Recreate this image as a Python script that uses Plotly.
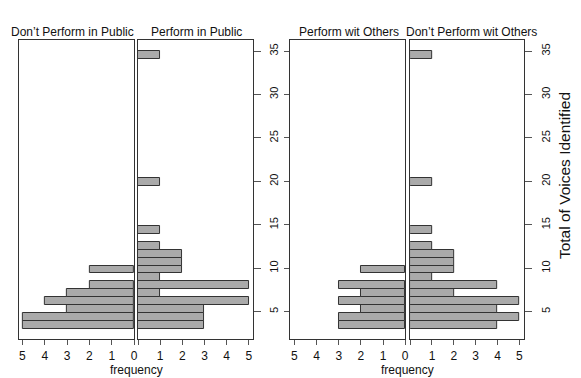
import numpy as np
import plotly.graph_objects as go

# Histogram bins of "Total of Voices Identified": 35 equal bins from 3 to 35
bin_low = 3
bin_high = 35
n_bins = 35

# counts per bin (bottom bin first)
dont_perform_public = [5, 5, 3, 4, 3, 2, 0, 2, 0, 0, 0, 0, 0, 0, 0, 0, 0, 0, 0, 0,
                       0, 0, 0, 0, 0, 0, 0, 0, 0, 0, 0, 0, 0, 0, 0]
perform_public = [3, 3, 3, 5, 1, 5, 1, 2, 2, 2, 1, 0, 1, 0, 0, 0, 0, 0, 1, 0,
                  0, 0, 0, 0, 0, 0, 0, 0, 0, 0, 0, 0, 0, 0, 1]
perform_others = [3, 3, 2, 3, 2, 3, 0, 2, 0, 0, 0, 0, 0, 0, 0, 0, 0, 0, 0, 0,
                  0, 0, 0, 0, 0, 0, 0, 0, 0, 0, 0, 0, 0, 0, 0]
dont_perform_others = [4, 5, 4, 5, 2, 4, 1, 2, 2, 2, 1, 0, 1, 0, 0, 0, 0, 0, 1, 0,
                       0, 0, 0, 0, 0, 0, 0, 0, 0, 0, 0, 0, 0, 0, 1]

panel_titles = ["Don\u2019t Perform in Public", "Perform in Public",
                "Perform wit Others", "Don\u2019t Perform wit Others"]
x_ticks = [0, 1, 2, 3, 4, 5]
x_ticklabels_left = ["0", "1", "2", "3", "4", "5"]
x_ticklabels_right = ["", "1", "2", "3", "4", "5"]
y_ticks = [5, 10, 15, 20, 25, 30, 35]
x_title = "frequency"
y_title = "Total of Voices Identified"

edges = np.linspace(bin_low, bin_high, n_bins + 1)
centers = (edges[:-1] + edges[1:]) / 2
bw = edges[1] - edges[0]

W, H = 581, 378
FONT = "Liberation Sans, Arial, Helvetica, sans-serif"
FRAME = "#333333"

# panel pixel boxes (left, right)
panels_px = [(19, 135), (139, 255), (292, 408), (413, 528)]
top_px, bot_px = 40, 339.3
ydom = [1 - bot_px / H, 1 - top_px / H]
yrange = [1.82, 36.27]
xranges = [[5.16, 0], [0, 5.2], [5.2, 0], [0, 5.23]]
series = [dont_perform_public, perform_public, perform_others, dont_perform_others]

fig = go.Figure()
for i, counts in enumerate(series):
    k = "" if i == 0 else str(i + 1)
    xs = [c if c > 0 else None for c in counts]
    fig.add_trace(go.Bar(
        x=xs, y=centers, width=bw, orientation="h",
        marker=dict(color="#aaaaaa", line=dict(color=FRAME, width=1)),
        xaxis="x" + k, yaxis="y" + k, showlegend=False, hoverinfo="x+y"))

    fig.layout["xaxis" + k] = dict(
        domain=[panels_px[i][0] / W, panels_px[i][1] / W], range=xranges[i],
        anchor="y" + k, tickvals=x_ticks,
        ticktext=x_ticklabels_left if i % 2 == 0 else x_ticklabels_right,
        ticks="outside", ticklen=5,
        tickcolor="#555", showline=True, mirror=True, linecolor=FRAME,
        linewidth=1, showgrid=False, zeroline=False,
        tickfont=dict(family=FONT, size=12, color="#111"))
    ya = dict(domain=ydom, range=yrange, anchor="x" + k, showline=True,
              mirror=True, linecolor=FRAME, linewidth=1, showgrid=False,
              zeroline=False, tickvals=y_ticks)
    if i == 0:
        ya.update(ticks="", showticklabels=False)
    elif i == 1 or i == 3:
        ya.update(side="right", ticks="outside", ticklen=7, tickcolor="#555",
                  tickangle=-90, showticklabels=True, ticklabelstandoff=4,
                  tickfont=dict(family=FONT, size=11, color="#111"))
    else:
        ya.update(side="left", ticks="outside", ticklen=5, tickcolor="#555",
                  showticklabels=False)
    fig.layout["yaxis" + k] = ya

ann = []
title_x = [73, 198, 351, 475]
for t, xp in zip(panel_titles, title_x):
    ann.append(dict(text=t, x=xp / W, y=1 - 31.5 / H, xref="paper", yref="paper",
                    showarrow=False, xanchor="center", yanchor="middle",
                    font=dict(family=FONT, size=12, color="#111")))
for xp in [137, 410]:
    ann.append(dict(text=x_title, x=xp / W, y=1 - 370 / H, xref="paper", yref="paper",
                    showarrow=False, xanchor="center", yanchor="middle",
                    font=dict(family=FONT, size=12, color="#111")))
ann.append(dict(text=y_title, x=568 / W, y=1 - 176 / H, xref="paper", yref="paper",
                showarrow=False, textangle=-90, xanchor="center", yanchor="middle",
                font=dict(family=FONT, size=15.5, color="#111")))

fig.update_layout(width=W, height=H, margin=dict(l=0, r=0, t=0, b=0),
                  paper_bgcolor="white", plot_bgcolor="white", bargap=0,
                  annotations=ann, font=dict(family=FONT))
fig.write_html("out.html", config={"displayModeBar": False},
               post_script="document.body.style.margin='0px';document.body.style.overflow='hidden';")
